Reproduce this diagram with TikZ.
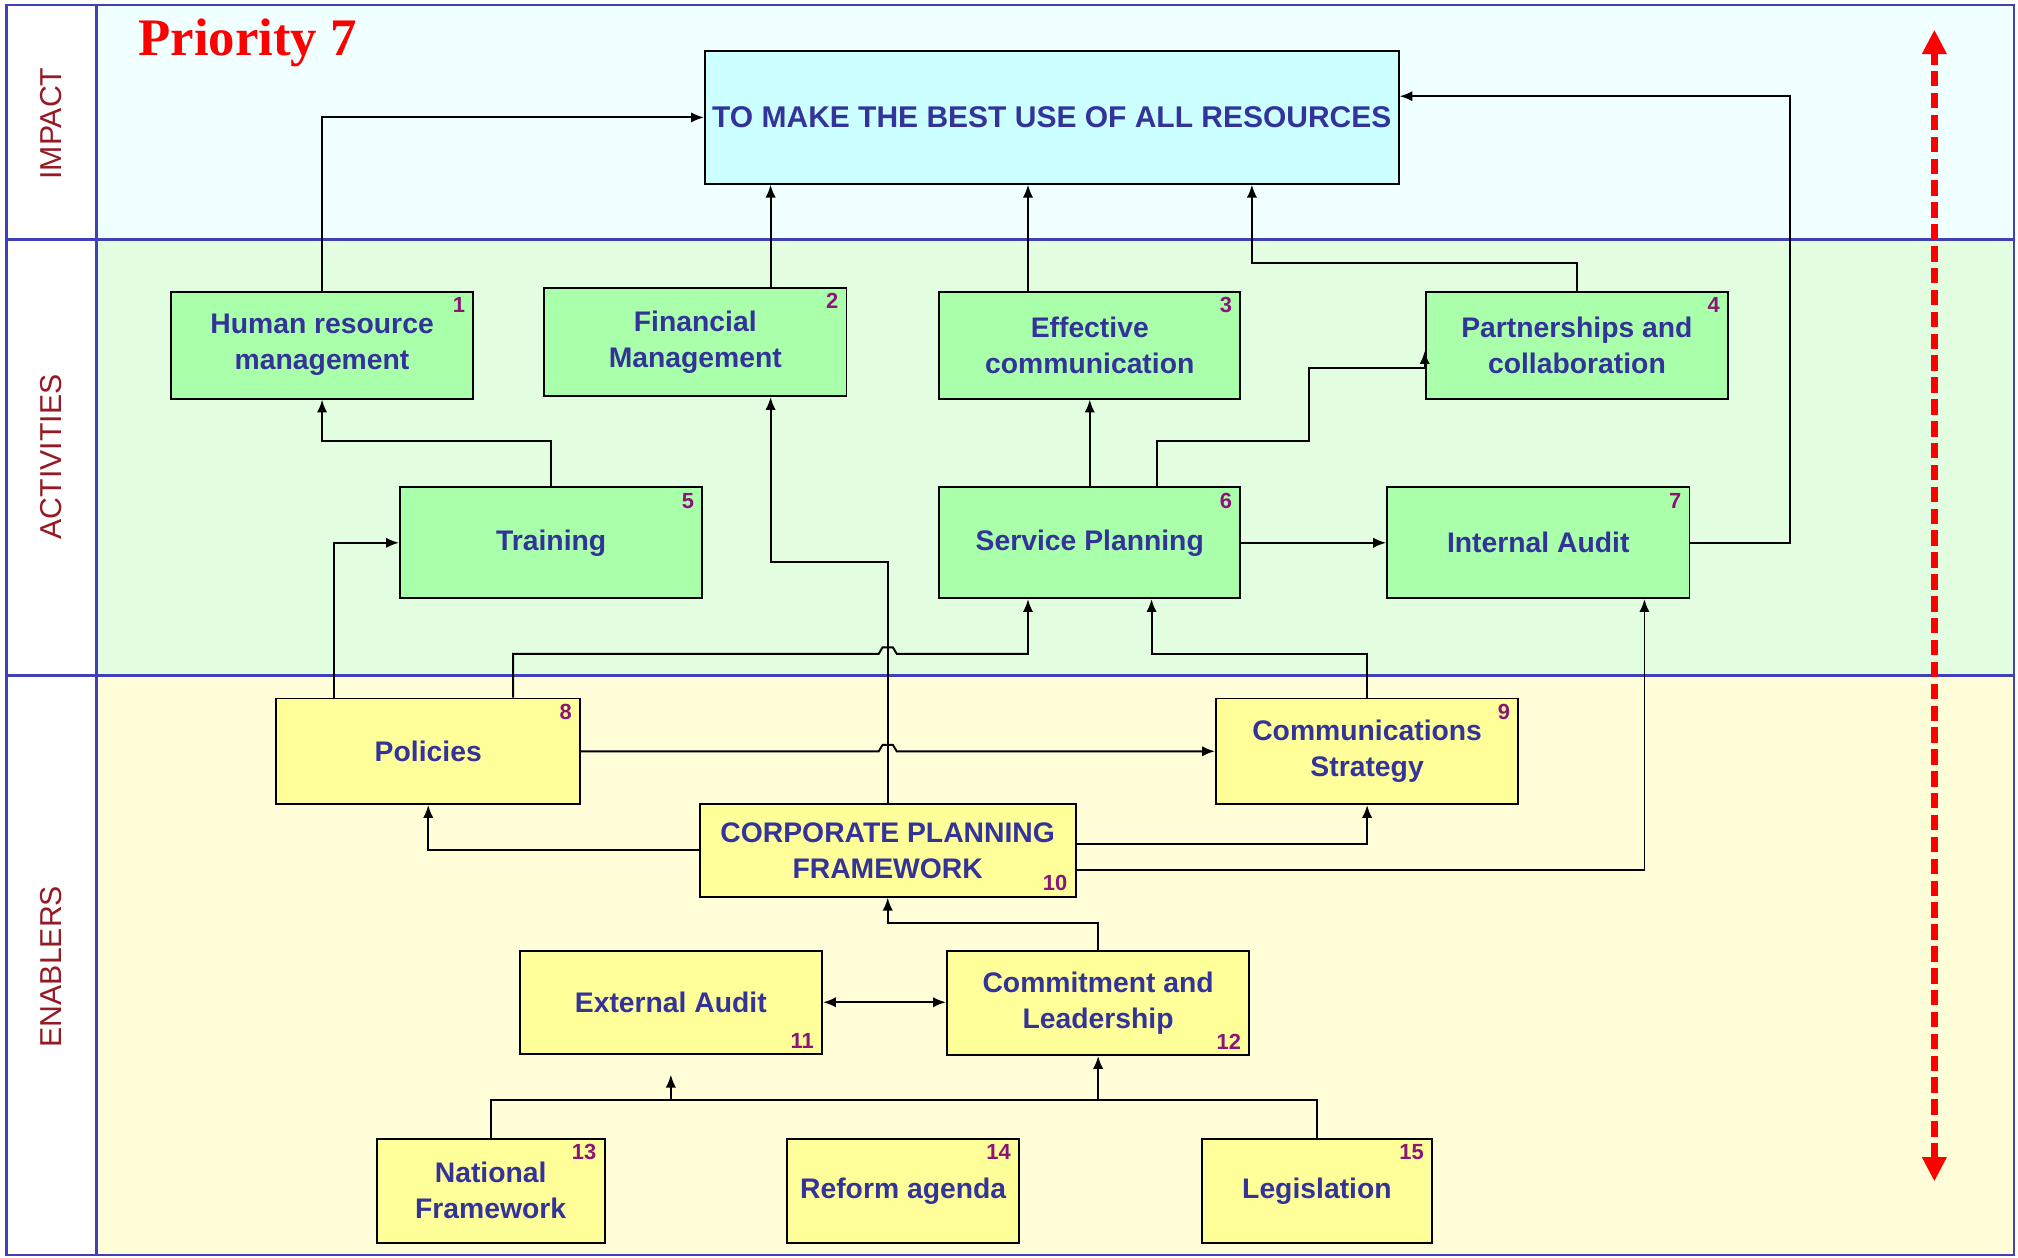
\documentclass[tikz,border=0pt]{standalone}
\usepackage{fontspec}
\setmainfont{Liberation Sans}
\newfontfamily\titlefont{Liberation Serif}
\usetikzlibrary{arrows.meta}

\definecolor{txtblue}{RGB}{51,51,153}
\definecolor{numpurple}{RGB}{140,20,120}
\definecolor{bandred}{RGB}{150,25,35}
\definecolor{frameblue}{RGB}{64,64,184}
\definecolor{impactbg}{RGB}{240,255,255}
\definecolor{actbg}{RGB}{226,253,224}
\definecolor{enabg}{RGB}{255,254,216}
\definecolor{impactfill}{RGB}{204,255,255}
\definecolor{actfill}{RGB}{170,255,170}
\definecolor{enafill}{RGB}{255,255,153}

\tikzset{
  cell/.style={draw=black, line width=1.5pt, inner sep=2pt, align=center,
    text=txtblue, font=\fontsize{22}{28}\selectfont\bfseries, anchor=north west},
  actcell/.style={cell, fill=actfill},
  enacell/.style={cell, fill=enafill},
  tagstyle/.style={text=numpurple, font=\fontsize{17}{17}\selectfont\bfseries,
    inner xsep=7pt, inner ysep=5pt},
  tagTR/.style={label={[tagstyle, anchor=north east]north east:#1}},
  tagBR/.style={label={[tagstyle, anchor=south east]south east:#1}},
  tip/.tip={Latex[length=10pt,width=8pt]},
  link/.style={line width=1.5pt, draw=black, -tip},
  plain/.style={line width=1.5pt, draw=black},
  bandlabel/.style={font=\fontsize{23.5}{23.5}\selectfont, text=bandred, rotate=90},
  divider/.style={draw=frameblue, line width=2pt},
  redtip/.tip={Triangle[length=19pt,width=18pt,fill=red]},
  redarrow/.style={draw=red, line width=6pt, dash pattern=on 12pt off 5pt, redtip-redtip},
}

\begin{document}
\begin{tikzpicture}[x=1pt,y=-1pt]
\useasboundingbox (0,0) rectangle (1568,977);

% background bands
\fill[white] (5,4) rectangle (75,975);
\fill[impactbg] (75,4) rectangle (1565,186);
\fill[actbg] (75,186) rectangle (1565,525);
\fill[enabg] (75,525) rectangle (1565,975);

% frame and dividers
\draw[divider] (5,4) rectangle (1565,975);
\draw[divider] (75,4) -- (75,975);
\draw[divider] (5,186) -- (1565,186);
\draw[divider] (5,525) -- (1565,525);

% band labels and title
\node[bandlabel] (lblimpact) at (40,96) {IMPACT};
\node[bandlabel] (lblact) at (40,355) {ACTIVITIES};
\node[bandlabel] (lblena) at (40,751) {ENABLERS};
\node[anchor=base west, text=red, font=\titlefont\bfseries\fontsize{41}{41}\selectfont]
  (prio) at (104,43) {Priority 7};

% impact
\node[cell, fill=impactfill, minimum width=539, minimum height=103,
  font=\fontsize{23.3}{28}\selectfont\bfseries] (impact) at (547,39)
  {TO MAKE THE BEST USE OF ALL RESOURCES};

% activities
\node[actcell, tagTR=1, minimum width=235, minimum height=83] (hr) at (132,226) {Human resource\\management};
\node[actcell, tagTR=2, minimum width=235, minimum height=84] (fm) at (422,223) {Financial\\Management};
\node[actcell, tagTR=3, minimum width=234, minimum height=83] (ec) at (729,226) {Effective\\communication};
\node[actcell, tagTR=4, minimum width=235, minimum height=83] (pc) at (1107,226) {Partnerships and\\collaboration};
\node[actcell, tagTR=5, minimum width=235, minimum height=86] (tr) at (310,378) {Training};
\node[actcell, tagTR=6, minimum width=234, minimum height=86] (sp) at (729,378) {Service Planning};
\node[actcell, tagTR=7, minimum width=235, minimum height=86] (ia) at (1077,378) {Internal Audit};

% enablers
\node[enacell, tagTR=8, minimum width=236, minimum height=82] (po) at (214,542) {Policies};
\node[enacell, tagTR=9, minimum width=235, minimum height=82] (cs) at (944,542) {Communications\\Strategy};
\node[enacell, tagBR=10, minimum width=292, minimum height=72] (cpf) at (543,624) {CORPORATE PLANNING\\FRAMEWORK};
\node[enacell, tagBR=11, minimum width=235, minimum height=80] (ea) at (403,738) {External Audit};
\node[enacell, tagBR=12, minimum width=235, minimum height=81] (cl) at (735,738) {Commitment and\\Leadership};
\node[enacell, tagTR=13, minimum width=177, minimum height=81] (nf) at (292,884) {National\\Framework};
\node[enacell, tagTR=14, minimum width=180, minimum height=81] (ra) at (611,884) {Reform agenda};
\node[enacell, tagTR=15, minimum width=179, minimum height=81] (lg) at (933,884) {Legislation};

% connection points
\coordinate (fmTop) at ([xshift=58.5pt]fm.north);
\coordinate (fmBot) at ([xshift=58.5pt]fm.south);
\coordinate (ecTop) at ([xshift=-48pt]ec.north);
\coordinate (impR) at ([xshift=155.5pt]impact.south);
\coordinate (impE) at ([yshift=16.5pt]impact.east);
\coordinate (poL) at ([xshift=-73pt]po.north);
\coordinate (poR) at ([xshift=66pt]po.north);
\coordinate (spL) at ([xshift=-48pt]sp.south);
\coordinate (spR) at ([xshift=48pt]sp.south);
\coordinate (spT) at ([xshift=52pt]sp.north);
\coordinate (pcIn) at ([yshift=-17.5pt]pc.west);
\coordinate (iaIn) at ([xshift=82.5pt]ia.south);
\coordinate (hop1) at (cpf.north |- 0,508);
\coordinate (hop2) at (cpf.north |- po.east);
\coordinate (bus) at ([yshift=29pt]nf.north);

% activities to impact
\draw[link] (hr.north) |- (impact.west);
\draw[link] (fmTop) -- (fmTop |- impact.south);
\draw[link] (ecTop) -- (ecTop |- impact.south);
\draw[link] (pc.north) -- ++(0,-22) -| (impR);
\draw[link] (ia.east) -- ++(77,0) |- (impE);

% within activities
\draw[link] (tr.north) -- ++(0,-35) -| (hr.south);
\draw[link] (sp.north) -- (ec.south);
\draw[link] (spT) -- ++(0,-35) -- ++(118,0) |- (pcIn) -- ++(0,-13);
\draw[link] (sp.east) -- (ia.west);

% enablers to activities (with hops over the framework line)
\draw[link] (poL) |- (tr.west);
\draw[link] (poR) |- ([xshift=-7pt]hop1) -- ++(3,-5) -- ++(8,0) -- ++(3,5) -| (spL);
\draw[link] (cs.north) -- ++(0,-34) -| (spR);
\draw[link] (cpf.north) -- ++(0,-187) -| (fmBot);
\draw[link] ([yshift=-15pt]cpf.east) -| (iaIn);

% within enablers
\draw[link] (po.east) -- ([xshift=-7pt]hop2) -- ++(3,-5) -- ++(8,0) -- ++(3,5) -- (cs.west);
\draw[link] (cpf.west) -| (po.south);
\draw[link] ([yshift=5pt]cpf.east) -| (cs.south);
\draw[link] (cl.north) -- ++(0,-21) -| (cpf.south);
\draw[link, tip-tip] (ea.east) -- (ea.east -| cl.west);
\draw[plain] (nf.north) |- (bus -| lg.north) -- (lg.north);
\draw[link] (bus -| cl.south) -- (cl.south);
\draw[link] (bus -| ea.south) -- ++(0,-20);

% vertical scale arrow
\coordinate (rtop) at (1503,23);
\coordinate (rbot) at (1503,918);
\draw[redarrow] (rbot) -- (rtop);
\end{tikzpicture}
\end{document}
